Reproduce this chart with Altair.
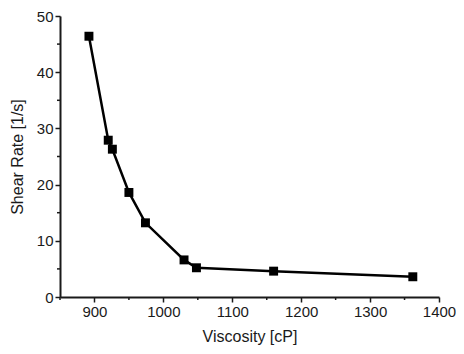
import altair as alt
import pandas as pd

viscosity = [892, 920, 926, 950, 974, 1030, 1048, 1160, 1362]
shear_rate = [46.4, 27.9, 26.3, 18.6, 13.2, 6.6, 5.2, 4.6, 3.6]
x_major = [900, 1000, 1100, 1200, 1300, 1400]
x_minor = [850, 950, 1050, 1150, 1250, 1350]
y_major = [0, 10, 20, 30, 40, 50]
y_minor = [5, 15, 25, 35, 45]

W, H = 379, 281
INK = "#1a1a1a"

df = pd.DataFrame({"v": viscosity, "s": shear_rate})

xs = alt.Scale(domain=[850, 1400], nice=False, zero=False)
ys = alt.Scale(domain=[0, 50], nice=False)

x_enc = alt.X("v:Q", scale=xs, axis=alt.Axis(values=x_major, title="Viscosity [cP]", format="d",
                                               tickSize=5, labelPadding=2, titlePadding=9,
                                               labelFlush=False, grid=False))
y_enc = alt.Y("s:Q", scale=ys, axis=alt.Axis(values=y_major, title="Shear Rate [1/s]", format="d",
                                               tickSize=5, labelPadding=2, titlePadding=11,
                                               labelFlush=False, grid=False))

base = alt.Chart(df).encode(x=x_enc, y=y_enc)
line = base.mark_line(color="black", strokeWidth=2.5)
pts = base.mark_square(size=80, color="black", opacity=1)

xminor = alt.Chart(pd.DataFrame({"v": x_minor})).mark_rule(color=INK, strokeWidth=1.5).encode(
    x=alt.X("v:Q", scale=xs), y=alt.value(H), y2=alt.value(H + 3))
yminor = alt.Chart(pd.DataFrame({"s": y_minor})).mark_rule(color=INK, strokeWidth=1.5).encode(
    y=alt.Y("s:Q", scale=ys), x=alt.value(0), x2=alt.value(-3))

chart = alt.layer(line, pts, xminor, yminor).properties(
    width=W, height=H, autosize="none",
    padding={"left": 52, "top": 8, "right": 17, "bottom": 48},
).configure_view(stroke=None).configure_axis(
    labelFont="Liberation Sans", titleFont="Liberation Sans",
    labelFontSize=15, titleFontSize=16, titleFontWeight="normal",
    labelColor=INK, titleColor=INK, domainColor=INK, tickColor=INK,
    domainWidth=2, tickWidth=1.5,
)

chart.save("out.html", embed_options={"renderer": "svg", "actions": False})
